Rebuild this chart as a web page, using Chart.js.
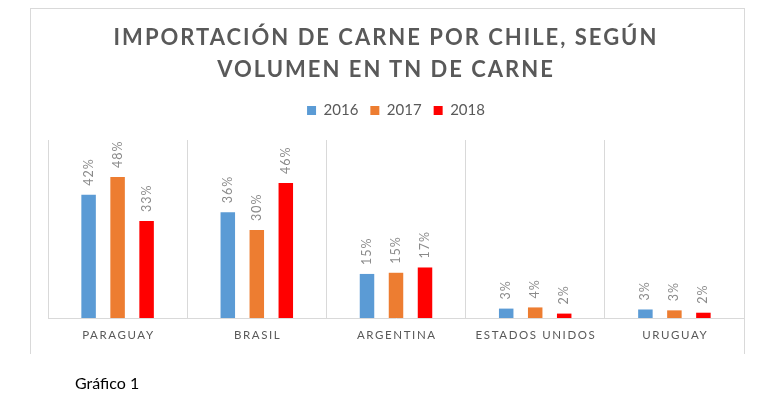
<!DOCTYPE html>
<html>
<head>
<meta charset="utf-8">
<script src="https://cdn.jsdelivr.net/npm/chart.js@4/dist/chart.umd.min.js"></script>
<style>
  body { margin: 0; background: #fff; width: 770px; height: 403px; position: relative; overflow: hidden; font-family: Lato, 'Noto Sans', sans-serif; }
  #frame { position: absolute; left: 30px; top: 8px; width: 713px; height: 345px; border: 1px solid #d9d9d9; border-bottom: none; }
  #title { position: absolute; left: 0; top: 21px; width: 772px; text-align: center; font-weight: bold; font-size: 22px; letter-spacing: 2px; color: #595959; line-height: 32px; }
  #chart { position: absolute; left: 0; top: 0; }
  #caption { position: absolute; left: 75px; top: 373px; font-size: 16px; color: #000; }
</style>
</head>
<body>
<div id="frame"></div>
<canvas id="chart" width="770" height="403"></canvas>
<div id="title">IMPORTACIÓN DE CARNE POR CHILE, SEGÚN<br>VOLUMEN EN TN DE CARNE</div>
<div id="caption">Gráfico 1</div>
<script>
var categories = ['PARAGUAY', 'BRASIL', 'ARGENTINA', 'ESTADOS UNIDOS', 'URUGUAY'];
var years = ['2016', '2017', '2018'];
var values2016 = [0.42, 0.36, 0.15, 0.032, 0.029];
var values2017 = [0.48, 0.30, 0.154, 0.036, 0.026];
var values2018 = [0.33, 0.46, 0.172, 0.015, 0.018];

var FONT = 'Lato, "Noto Sans", sans-serif';

// Excel style rotated value labels above each bar
var barLabels = {
  id: 'barLabels',
  afterDatasetsDraw: function (chart) {
    var ctx = chart.ctx;
    ctx.save();
    ctx.font = '12.5px ' + FONT;
    ctx.fillStyle = '#8a8a8a';
    ctx.letterSpacing = '1px';
    ctx.textAlign = 'left';
    ctx.textBaseline = 'middle';
    chart.data.datasets.forEach(function (ds, i) {
      chart.getDatasetMeta(i).data.forEach(function (bar, j) {
        ctx.save();
        ctx.translate(bar.x, bar.y - 9);
        ctx.rotate(-Math.PI / 2);
        ctx.fillText(Math.round(ds.data[j] * 100) + '%', 0, 0);
        ctx.restore();
      });
    });
    ctx.restore();
  }
};

// category labels with letter spacing
var spacedTicks = {
  id: 'spacedTicks',
  afterDraw: function (chart) {
    var ctx = chart.ctx, xs = chart.scales.x;
    ctx.save();
    ctx.font = '11.5px ' + FONT;
    ctx.fillStyle = '#595959';
    ctx.letterSpacing = '1.6px';
    ctx.textAlign = 'left';
    ctx.textBaseline = 'middle';
    categories.forEach(function (c, i) {
      var w = ctx.measureText(c).width - 1.6;
      ctx.fillText(c, xs.getPixelForValue(i) - w / 2, chart.chartArea.bottom + 17);
    });
    ctx.restore();
  }
};

var legendMargin = {
  id: 'legendMargin',
  beforeInit: function (chart) {
    var fit = chart.legend.fit;
    chart.legend.fit = function () {
      fit.bind(chart.legend)();
      this.height += 12;
    };
  }
};

new Chart(document.getElementById('chart').getContext('2d'), {
  type: 'bar',
  data: {
    labels: categories,
    datasets: [
      { label: years[0], data: values2016, backgroundColor: '#5B9BD5' },
      { label: years[1], data: values2017, backgroundColor: '#ED7D31' },
      { label: years[2], data: values2018, backgroundColor: '#FF0000' }
    ]
  },
  options: {
    responsive: false,
    animation: false,
    categoryPercentage: 0.625,
    barPercentage: 0.5,
    layout: { padding: { left: 48, right: 26, top: 91, bottom: 85 } },
    plugins: {
      title: { display: false },
      tooltip: { enabled: false },
      legend: {
        position: 'top',
        labels: { boxWidth: 9, boxHeight: 9, padding: 12, color: '#595959', font: { family: FONT, size: 15 } }
      }
    },
    scales: {
      x: {
        grid: { color: '#d9d9d9', drawTicks: false, offset: true },
        border: { color: '#d9d9d9' },
        ticks: { display: false }
      },
      y: { display: false, min: 0, max: 0.606 }
    }
  },
  plugins: [barLabels, spacedTicks, legendMargin]
});
</script>
</body>
</html>
